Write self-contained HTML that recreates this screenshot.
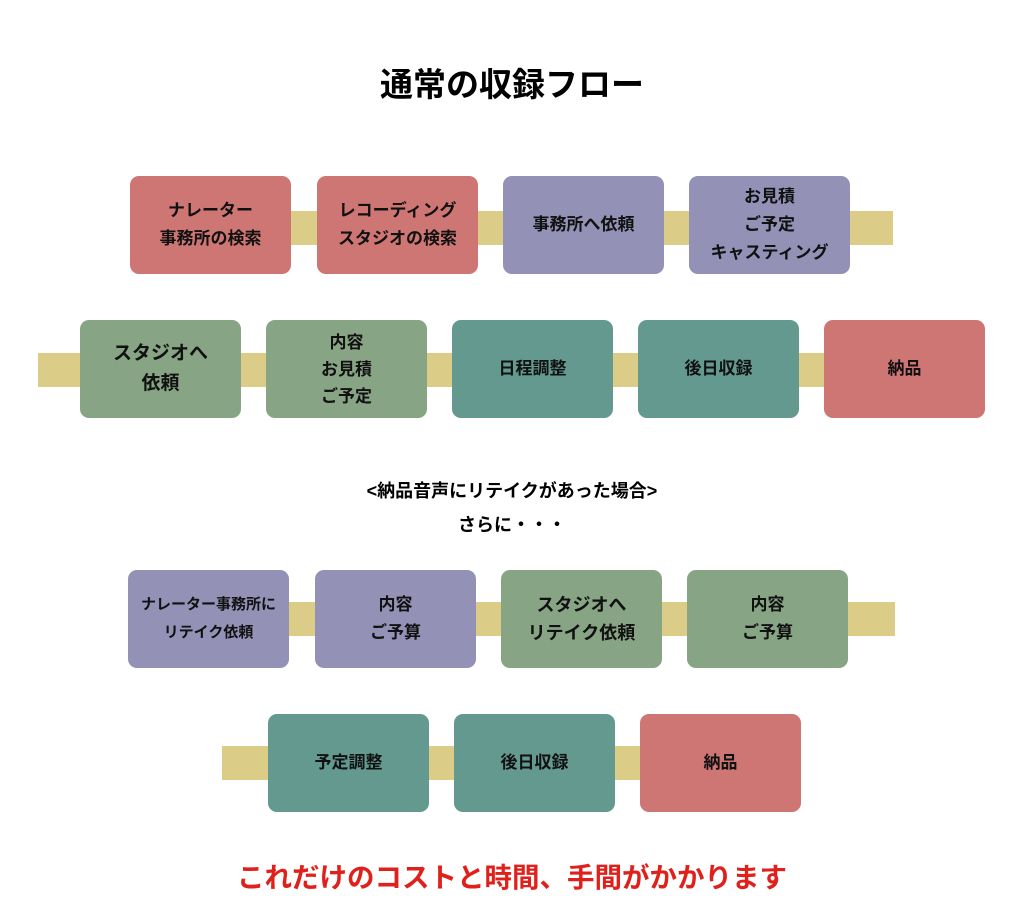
<!DOCTYPE html>
<html><head><meta charset="utf-8"><style>
body{margin:0;width:1024px;height:922px;background:#fff;position:relative;font-family:"Liberation Sans","Noto Sans CJK JP",sans-serif;overflow:hidden}
.b{position:absolute;width:161px;height:98px;border-radius:9px;display:flex;align-items:center;justify-content:center;text-align:center;font-weight:bold;font-size:17px;line-height:28px;color:#111}
.bar{position:absolute;height:34px;background:#dbcd87}
.r{background:#cd7674}.p{background:#9391b5}.g{background:#87a585}.t{background:#63998f}
.tx{position:absolute;left:0;width:1024px;text-align:center;font-weight:bold}
</style></head><body>
<div class="tx" style="top:58px;font-size:33px;left:0px">通常の収録フロー</div>
<div class="bar" style="left:200px;width:693px;top:211px"></div>
<div class="b r" style="left:130px;top:176px">ナレーター<br>事務所の検索</div>
<div class="b r" style="left:317px;top:176px">レコーディング<br>スタジオの検索</div>
<div class="b p" style="left:503px;top:176px">事務所へ依頼</div>
<div class="b p" style="left:689px;top:176px">お見積<br>ご予定<br>キャスティング</div>
<div class="bar" style="left:38px;width:800px;top:353px"></div>
<div class="b g" style="left:80px;top:320px;font-size:19px;line-height:30px">スタジオへ<br>依頼</div>
<div class="b g" style="left:266px;top:320px;line-height:27px">内容<br>お見積<br>ご予定</div>
<div class="b t" style="left:452px;top:320px">日程調整</div>
<div class="b t" style="left:638px;top:320px">後日収録</div>
<div class="b r" style="left:824px;top:320px">納品</div>
<div class="tx" style="top:477px;font-size:18px">&lt;納品音声にリテイクがあった場合&gt;</div>
<div class="tx" style="top:511px;font-size:18px">さらに・・・</div>
<div class="bar" style="left:200px;width:695px;top:602px"></div>
<div class="b p" style="left:128px;top:570px;font-size:15px">ナレーター事務所に<br>リテイク依頼</div>
<div class="b p" style="left:315px;top:570px">内容<br>ご予算</div>
<div class="b g" style="left:501px;top:570px;font-size:18px">スタジオへ<br>リテイク依頼</div>
<div class="b g" style="left:687px;top:570px">内容<br>ご予算</div>
<div class="bar" style="left:222px;width:440px;top:746px"></div>
<div class="b t" style="left:268px;top:714px">予定調整</div>
<div class="b t" style="left:454px;top:714px">後日収録</div>
<div class="b r" style="left:640px;top:714px">納品</div>
<div class="tx" style="top:855px;font-size:27.5px;color:#e0201b">これだけのコストと時間、手間がかかります</div>
</body></html>
